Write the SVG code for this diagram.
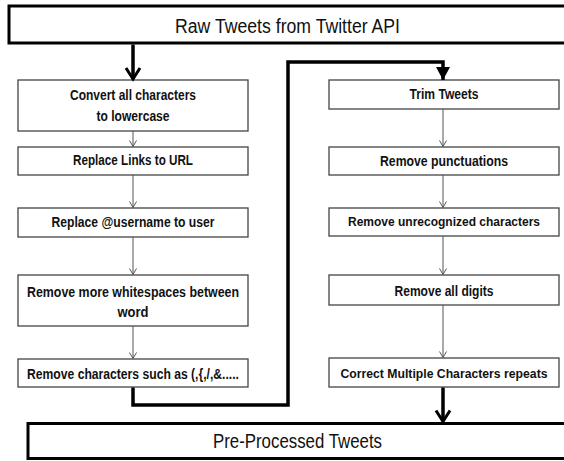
<svg xmlns="http://www.w3.org/2000/svg" width="564" height="461" viewBox="0 0 564 461">
  <style>
    .box { fill: #fff; stroke: #444; stroke-width: 1.3; }
    .big { fill: #fff; stroke: #000; stroke-width: 3; }
    .t { font-family: "Liberation Sans", Arial, sans-serif; font-weight: bold; font-size: 14px; fill: #111; text-anchor: middle; }
    .s { font-size: 12.5px; }
    .h { font-family: "Liberation Sans", Arial, sans-serif; font-size: 20px; fill: #111; text-anchor: middle; }
    .thin { fill: none; stroke: #555; stroke-width: 1; marker-end: url(#thinV); }
    .thick { fill: none; stroke: #000; stroke-width: 3.5; }
  </style>
  <defs>
    <marker id="thinV" markerUnits="userSpaceOnUse" viewBox="0 0 8 8" refX="7" refY="4" markerWidth="8" markerHeight="8" orient="auto" overflow="visible">
      <path d="M1,0.5 L7,4 L1,7.5" fill="none" stroke="#555" stroke-width="1"/>
    </marker>
    <marker id="thickV" markerUnits="userSpaceOnUse" viewBox="0 0 14 16" refX="12" refY="8" markerWidth="14" markerHeight="16" orient="auto" overflow="visible">
      <path d="M1,1 L12,8 L1,15" fill="none" stroke="#000" stroke-width="3"/>
    </marker>
    <marker id="thickF" markerUnits="userSpaceOnUse" viewBox="0 0 14 16" refX="13" refY="8" markerWidth="14" markerHeight="16" orient="auto" overflow="visible">
      <path d="M0,1 L13,8 L0,15 z" fill="#000"/>
    </marker>
  </defs>

  <g id="raw">
    <rect class="big" x="9" y="6" width="620" height="37"/>
    <text class="h" x="287.5" y="33" textLength="225" lengthAdjust="spacingAndGlyphs">Raw Tweets from Twitter API</text>
  </g>

  <g id="lower">
    <rect class="box" x="18" y="80" width="230" height="51"/>
    <text class="t" x="133" y="100" textLength="126" lengthAdjust="spacingAndGlyphs">Convert all characters</text>
    <text class="t" x="133" y="121" textLength="73" lengthAdjust="spacingAndGlyphs">to lowercase</text>
  </g>
  <g id="links">
    <rect class="box" x="18" y="147" width="230" height="28"/>
    <text class="t" x="133" y="165" textLength="120" lengthAdjust="spacingAndGlyphs">Replace Links to URL</text>
  </g>
  <g id="username">
    <rect class="box" x="18" y="208" width="230" height="29"/>
    <text class="t" x="133" y="227" textLength="163" lengthAdjust="spacingAndGlyphs">Replace @username to user</text>
  </g>
  <g id="whitespace">
    <rect class="box" x="18" y="275" width="230" height="51"/>
    <text class="t" x="133" y="297" textLength="212" lengthAdjust="spacingAndGlyphs">Remove more whitespaces between</text>
    <text class="t" x="133" y="317" textLength="31" lengthAdjust="spacingAndGlyphs">word</text>
  </g>
  <g id="chars">
    <rect class="box" x="18" y="359" width="230" height="28"/>
    <text class="t" x="133" y="379" textLength="212" lengthAdjust="spacingAndGlyphs">Remove characters such as (,{,/,&amp;.....</text>
  </g>

  <g id="trim">
    <rect class="box" x="329" y="80" width="230" height="29"/>
    <text class="t" x="444" y="99" textLength="69" lengthAdjust="spacingAndGlyphs">Trim Tweets</text>
  </g>
  <g id="punct">
    <rect class="box" x="329" y="147" width="230" height="28"/>
    <text class="t" x="444" y="166" textLength="128" lengthAdjust="spacingAndGlyphs">Remove punctuations</text>
  </g>
  <g id="unrec">
    <rect class="box" x="329" y="208" width="230" height="28"/>
    <text class="t s" x="444" y="226" textLength="192" lengthAdjust="spacingAndGlyphs">Remove unrecognized characters</text>
  </g>
  <g id="digits">
    <rect class="box" x="329" y="275" width="230" height="30"/>
    <text class="t" x="444" y="296" textLength="99" lengthAdjust="spacingAndGlyphs">Remove all digits</text>
  </g>
  <g id="repeats">
    <rect class="box" x="329" y="358" width="230" height="29"/>
    <text class="t s" x="444" y="378" textLength="207" lengthAdjust="spacingAndGlyphs">Correct Multiple Characters repeats</text>
  </g>

  <g id="pre">
    <rect class="big" x="28" y="423.5" width="620" height="35"/>
    <text class="h" x="297.5" y="448" font-size="19" textLength="169" lengthAdjust="spacingAndGlyphs">Pre-Processed Tweets</text>
  </g>

  <g id="connectors">
    <path class="thick" d="M133,44.5 V79" marker-end="url(#thickV)"/>
    <path class="thin" d="M133,131 V146.5"/>
    <path class="thin" d="M133,175 V207.5"/>
    <path class="thin" d="M133,237 V274.5"/>
    <path class="thin" d="M133,326 V358.5"/>
    <path class="thick" d="M133,387.5 V405 H288 V62 H443 V80" marker-end="url(#thickF)"/>
    <path class="thin" d="M443,109 V146.5"/>
    <path class="thin" d="M443,175 V207.5"/>
    <path class="thin" d="M443,236 V274.5"/>
    <path class="thin" d="M443,305 V357.5"/>
    <path class="thick" d="M443,387.5 V421.5" marker-end="url(#thickV)"/>
  </g>
</svg>
